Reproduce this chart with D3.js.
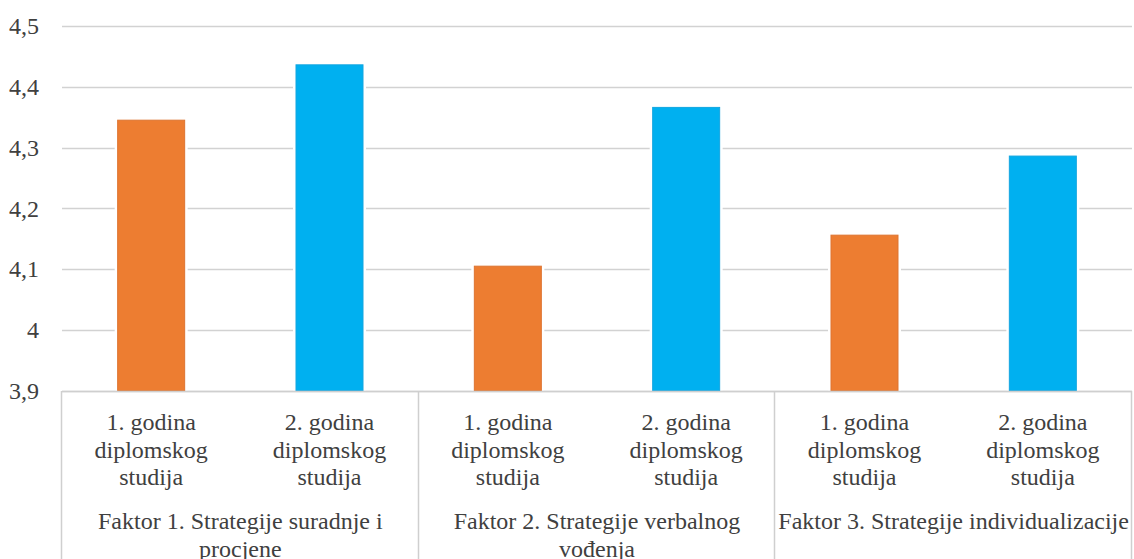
<!DOCTYPE html>
<html>
<head>
<meta charset="utf-8">
<script src="https://cdn.jsdelivr.net/npm/d3@7"></script>
<style>
    html, body { margin: 0; padding: 0; background: #fff; }
    svg { display: block; }
</style>
</head>
<body>
<div id="chart"></div>
<script>
/*
 * Chart data.
 */
var factors = [
    'Faktor 1. Strategije suradnje i procjene',
    'Faktor 2. Strategije verbalnog vođenja',
    'Faktor 3. Strategije individualizacije'
];
var years = ['1. godina diplomskog studija', '2. godina diplomskog studija'];
var firstYear  = [4.346, 4.106, 4.157];
var secondYear = [4.437, 4.367, 4.287];
var yTicks = [3.9, 4.0, 4.1, 4.2, 4.3, 4.4, 4.5];
var colors = ['#ED7D31', '#00B0F0'];
var strokes = ['#DE7430', '#12A6E0'];

var FONT = 'Liberation Serif';
var TEXT_COLOR = '#404040';

/**
 * Wrap text element into lines of maximum width.
 * @param {d3.selection} text
 * @param {String} words
 * @param {Number} width
 * @param {Number} lineHeight
 */
function wrap(text, words, width, lineHeight) {
    var parts = words.split(' ');
    var lines = [];
    var line = [];
    var probe = text.append('tspan');
    parts.forEach(function(word) {
        line.push(word);
        probe.text(line.join(' '));
        if (probe.node().getComputedTextLength() > width && line.length > 1) {
            line.pop();
            lines.push(line.join(' '));
            line = [word];
        }
    });
    lines.push(line.join(' '));
    probe.remove();
    lines.forEach(function(l, i) {
        text.append('tspan')
            .attr('x', text.attr('x'))
            .attr('dy', i == 0 ? 0 : lineHeight)
            .text(l);
    });
}

var width  = 1134;
var height = 559;
var margin = { left: 62, right: 2, top: 26, axis: 391 };

var svg = d3.select('#chart').append('svg')
    .attr('width', width)
    .attr('height', height);

/*
 * Scales.
 */
var x0 = d3.scaleBand()
    .domain(d3.range(factors.length))
    .range([margin.left, width - margin.right]);
var x1 = d3.scaleBand()
    .domain(d3.range(years.length))
    .range([0, x0.bandwidth()]);
var y = d3.scaleLinear()
    .domain([3.9, 4.5])
    .range([margin.axis, margin.top]);

var barWidth = 68;

/*
 * Grid lines.
 */
svg.append('g')
    .selectAll('line')
    .data(yTicks)
    .join('line')
    .attr('x1', margin.left)
    .attr('x2', width - margin.right)
    .attr('y1', d => Math.round(y(d)) + 0.5)
    .attr('y2', d => Math.round(y(d)) + 0.5)
    .attr('stroke', '#d2d2d2')
    .attr('stroke-width', 1.5);

/*
 * Y tick labels.
 */
svg.append('g')
    .selectAll('text')
    .data(yTicks)
    .join('text')
    .attr('x', 39)
    .attr('y', d => y(d) + 8)
    .attr('text-anchor', 'end')
    .attr('font-family', FONT)
    .attr('font-size', 24)
    .attr('fill', TEXT_COLOR)
    .text(d => d3.format('.1f')(d).replace('.0', '').replace('.', ','));

/*
 * Bars.
 */
var series = [firstYear, secondYear];
var groups = svg.append('g')
    .selectAll('g')
    .data(factors)
    .join('g')
    .attr('transform', (d, i) => 'translate(' + x0(i) + ',0)');

groups.each(function(f, i) {
    var g = d3.select(this);
    series.forEach(function(values, s) {
        var bx = x1(s) + x1.bandwidth() / 2 - barWidth / 2;
        var by = y(values[i]);
        g.append('rect')
            .attr('x', bx - 2.5)
            .attr('y', by - 2.5)
            .attr('width', barWidth + 5)
            .attr('height', y(3.9) - by + 2)
            .attr('fill', '#fff');
        g.append('rect')
            .attr('x', bx + 0.5)
            .attr('y', by + 0.5)
            .attr('width', barWidth - 1)
            .attr('height', y(3.9) - by - 1)
            .attr('fill', colors[s])
            .attr('stroke', strokes[s])
            .attr('stroke-width', 1);
    });
});

/*
 * Category axis: baseline and dividers.
 */
svg.append('line')
    .attr('x1', margin.left)
    .attr('x2', width - margin.right)
    .attr('y1', margin.axis + 0.5)
    .attr('y2', margin.axis + 0.5)
    .attr('stroke', '#cfcfcf')
    .attr('stroke-width', 1.5);

svg.append('g')
    .selectAll('line')
    .data(d3.range(factors.length + 1))
    .join('line')
    .attr('x1', i => Math.round(margin.left + i * x0.bandwidth()) - 0.5)
    .attr('x2', i => Math.round(margin.left + i * x0.bandwidth()) - 0.5)
    .attr('y1', margin.axis)
    .attr('y2', height)
    .attr('stroke', '#cfcfcf')
    .attr('stroke-width', 1.5);

/*
 * Year labels under each bar, factor labels under each group.
 */
groups.each(function(f, i) {
    var g = d3.select(this);
    years.forEach(function(label, s) {
        var t = g.append('text')
            .attr('x', x1(s) + x1.bandwidth() / 2)
            .attr('y', 430)
            .attr('text-anchor', 'middle')
            .attr('font-family', FONT)
            .attr('font-size', 24)
            .attr('fill', TEXT_COLOR);
        wrap(t, label, x1.bandwidth() - 6, 27.5);
    });
    var ft = g.append('text')
        .attr('x', x0.bandwidth() / 2)
        .attr('y', 529)
        .attr('text-anchor', 'middle')
        .attr('font-family', FONT)
        .attr('font-size', 24)
        .attr('fill', TEXT_COLOR);
    wrap(ft, f, x0.bandwidth() - 3, 28);
});
</script>
</body>
</html>
